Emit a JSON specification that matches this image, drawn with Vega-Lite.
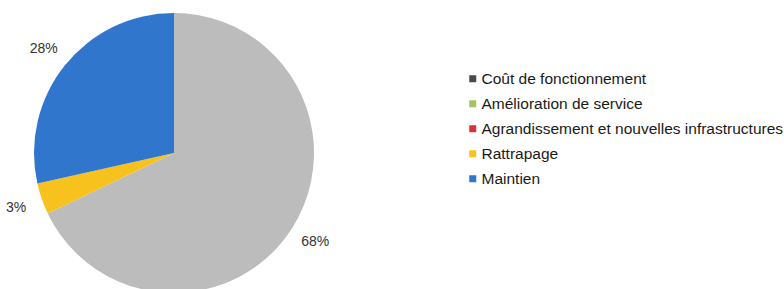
{
  "$schema": "https://vega.github.io/schema/vega-lite/v6.json",
  "width": 348,
  "height": 306,
  "padding": 0,
  "autosize": {"type": "pad"},
  "background": "white",
  "view": {"stroke": null},
  "data": {"values": [
    {"cat": "Coût de fonctionnement", "value": 67.9, "rank": 1, "label": "68%"},
    {"cat": "Amélioration de service", "value": 0, "rank": 2, "label": ""},
    {"cat": "Agrandissement et nouvelles infrastructures", "value": 0, "rank": 3, "label": ""},
    {"cat": "Rattrapage", "value": 3.6, "rank": 4, "label": "3%"},
    {"cat": "Maintien", "value": 28.5, "rank": 5, "label": "28%"}
  ]},
  "encoding": {
    "theta": {"field": "value", "type": "quantitative", "stack": true},
    "order": {"field": "rank", "type": "quantitative"}
  },
  "layer": [
    {"mark": {"type": "arc", "outerRadius": 140, "stroke": null},
     "encoding": {
       "color": {
         "field": "cat", "type": "nominal",
         "scale": {
           "domain": ["Coût de fonctionnement", "Amélioration de service", "Agrandissement et nouvelles infrastructures", "Rattrapage", "Maintien"],
           "range": ["#bcbcbc", "#a5c25c", "#d6343a", "#f7c21e", "#2f76cc"]
         },
         "legend": null
       }
     }},
    {"mark": {"type": "text", "radius": 167, "font": "Liberation Sans", "fontSize": 14, "fill": "#333333"},
     "encoding": {"text": {"field": "label"}}},
    {"mark": {"type": "text", "radius": 10, "text": ""},
     "encoding": {
       "color": {
         "field": "cat", "type": "nominal",
         "scale": {
           "domain": ["Coût de fonctionnement", "Amélioration de service", "Agrandissement et nouvelles infrastructures", "Rattrapage", "Maintien"],
           "range": ["#4a4a4a", "#a5c25c", "#d6343a", "#f7c21e", "#2f76cc"]
         },
         "legend": {
           "title": null,
           "orient": "none",
           "legendX": 465,
           "legendY": 71,
           "symbolType": "square",
           "symbolSize": 49,
           "symbolStrokeWidth": 0,
           "symbolOpacity": 1,
           "labelFont": "Liberation Sans",
           "labelFontSize": 15.5,
           "labelColor": "#1a1a1a",
           "labelOffset": 1,
           "labelLimit": 400,
           "rowPadding": 8
         }
       }
     }}
  ],
  "resolve": {"scale": {"color": "independent"}}
}
